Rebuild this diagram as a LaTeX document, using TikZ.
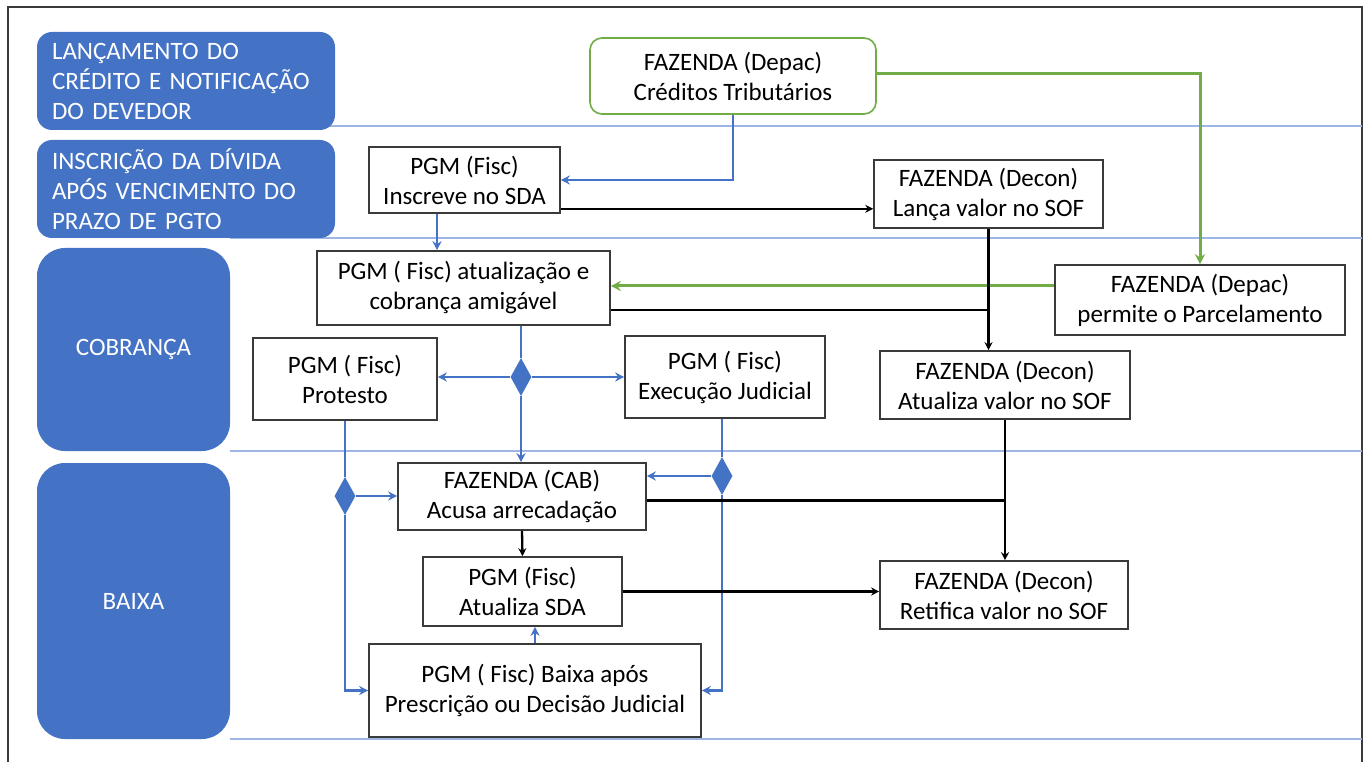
\documentclass[tikz,border=0pt]{standalone}
\usepackage{fontspec}
\setmainfont{Carlito}
\usetikzlibrary{shapes.geometric,arrows.meta}
\definecolor{lane}{HTML}{4472C4}
\definecolor{conn}{HTML}{4472C4}
\definecolor{grn}{HTML}{70AD47}
\definecolor{sepc}{HTML}{9DB6E4}
\definecolor{bord}{HTML}{3A3A3A}
\begin{document}
\begin{tikzpicture}[x=1pt,y=-1pt,
  txt/.style={font=\fontsize{25}{30}\selectfont},
  lanebox/.style={txt, fill=lane, text=white, inner sep=0pt},
  proc/.style={txt, draw=bord, line width=1.6pt, fill=white, align=center, inner sep=0pt},
  bl/.style={draw=conn, line width=2.8pt, -{Stealth[length=9pt,width=9pt]}},
  blp/.style={draw=conn, line width=2.8pt},
  bk/.style={draw=black, line width=2.3pt, -{Stealth[length=8pt,width=8pt]}},
  bkp/.style={draw=black, line width=2.3pt},
  gn/.style={draw=grn, line width=3pt, -{Stealth[length=10pt,width=10pt]}},
  dia/.style={diamond, fill=conn, inner sep=0pt, minimum width=21pt, minimum height=38pt, aspect=0.55},
  sepline/.style={draw=sepc, line width=1.2pt}
]
\useasboundingbox (0,0) rectangle (1366,762);
% frame
\draw[bord, line width=1.5pt] (8,762) -- (8,7) -- (1362,7) -- (1362,762);
% lane separators
\draw[sepline] (230,126) -- (1362,126);
\draw[sepline] (230,238) -- (1362,238);
\draw[sepline] (230,451) -- (1362,451);
\draw[sepline] (230,739) -- (1362,739);
% lanes
\node[lanebox, rounded corners=15pt, minimum width=298pt, minimum height=98pt, text width=268pt, align=left] (l1) at (186,81) {LANÇAMENTO DO\\CRÉDITO E NOTIFICAÇÃO\\DO DEVEDOR};
\node[lanebox, rounded corners=15pt, minimum width=298pt, minimum height=98pt, text width=268pt, align=left] (l2) at (186,189) {INSCRIÇÃO DA DÍVIDA\\APÓS VENCIMENTO DO\\PRAZO DE PGTO};
\node[lanebox, rounded corners=28pt, minimum width=193pt, minimum height=203pt] (l3) at (133.5,349.5) {COBRANÇA};
\node[lanebox, rounded corners=28pt, minimum width=193pt, minimum height=276pt] (l4) at (133.5,601) {BAIXA};
% process nodes
\node[proc, draw=grn, rounded corners=12pt, minimum width=286pt, minimum height=76pt] (dep1) at (733,76) {FAZENDA (Depac)\\Créditos Tributários};
\node[proc, minimum width=191pt, minimum height=66pt] (ins) at (464.5,180) {PGM (Fisc)\\Inscreve no SDA};
\node[proc, minimum width=229pt, minimum height=68pt] (lanca) at (988.5,194) {FAZENDA (Decon)\\Lança valor no SOF};
\node[proc, minimum width=293pt, minimum height=74pt] (atu) at (463.5,288) {PGM ( Fisc) atualização e\\cobrança amigável};
\node[proc, minimum width=290pt, minimum height=70pt] (parc) at (1200,300) {FAZENDA (Depac)\\permite o Parcelamento};
\node[proc, minimum width=184pt, minimum height=82pt] (prot) at (345,379) {PGM ( Fisc)\\Protesto};
\node[proc, minimum width=200pt, minimum height=82pt] (exec) at (725,377) {PGM ( Fisc)\\Execução Judicial};
\node[proc, minimum width=250pt, minimum height=68pt] (atv) at (1005,385) {FAZENDA (Decon)\\Atualiza valor no SOF};
\node[proc, minimum width=248pt, minimum height=67pt] (cab) at (522,496.5) {FAZENDA (CAB)\\Acusa arrecadação};
\node[proc, minimum width=199pt, minimum height=69pt] (sda) at (522.5,591.5) {PGM (Fisc)\\Atualiza SDA};
\node[proc, minimum width=248pt, minimum height=68pt] (ret) at (1004,595) {FAZENDA (Decon)\\Retifica valor no SOF};
\node[proc, minimum width=332pt, minimum height=93pt] (bx) at (535,690.5) {PGM ( Fisc) Baixa após\\Prescrição ou Decisão Judicial};
% diamonds
\node[dia] (d1) at (521,377) {};
\node[dia] (d2) at (345,496) {};
\node[dia] (d3) at (722,476) {};
% connectors
\draw[bl] (dep1.south) |- (ins.east);
\draw[bk] ([yshift=5pt]ins.south east) -- ([yshift=5pt]ins.south east -| lanca.west);
\draw[bl] ([xshift=-27.5pt]ins.south) -- ([xshift=-27.5pt]ins.south |- atu.north);
\draw[gn] ([yshift=2pt]dep1.east) -| (parc.north);
\draw[gn] ([yshift=14pt]parc.west) -- ([yshift=14pt]parc.west -| atu.east);
\draw[bk] (lanca.south) -- (lanca.south |- atv.north);
\draw[bkp] ([yshift=-22pt]atu.east) -- ([yshift=-22pt]atu.east -| lanca.south);
\draw[blp] (d1.north |- atu.south) -- (d1.north);
\draw[bl] (d1.west) -- (d1.west -| prot.east);
\draw[bl] (d1.east) -- (d1.east -| exec.west);
\draw[bl] (d1.south) -- (d1.south |- cab.north);
\draw[blp] (prot.south) -- (d2.north);
\draw[bl] (d2.east) -- (d2.east -| cab.west);
\draw[bl] (d2.south) |- (bx.west);
\draw[blp] (d3.north |- exec.south) -- (d3.north);
\draw[bl] (d3.west) -- (d3.west -| cab.east);
\draw[bl] (d3.south) |- (bx.east);
\draw[bkp] ([yshift=-4pt]cab.east) -- ([yshift=-4pt]cab.east -| atv.south);
\draw[bk] (atv.south) -- (atv.south |- ret.north);
\draw[bk] (cab.south) -- (sda.north);
\draw[bk] (sda.east) -- (sda.east -| ret.west);
\draw[bl, line width=2pt] (bx.north) -- (bx.north |- sda.south);
\end{tikzpicture}
\end{document}
